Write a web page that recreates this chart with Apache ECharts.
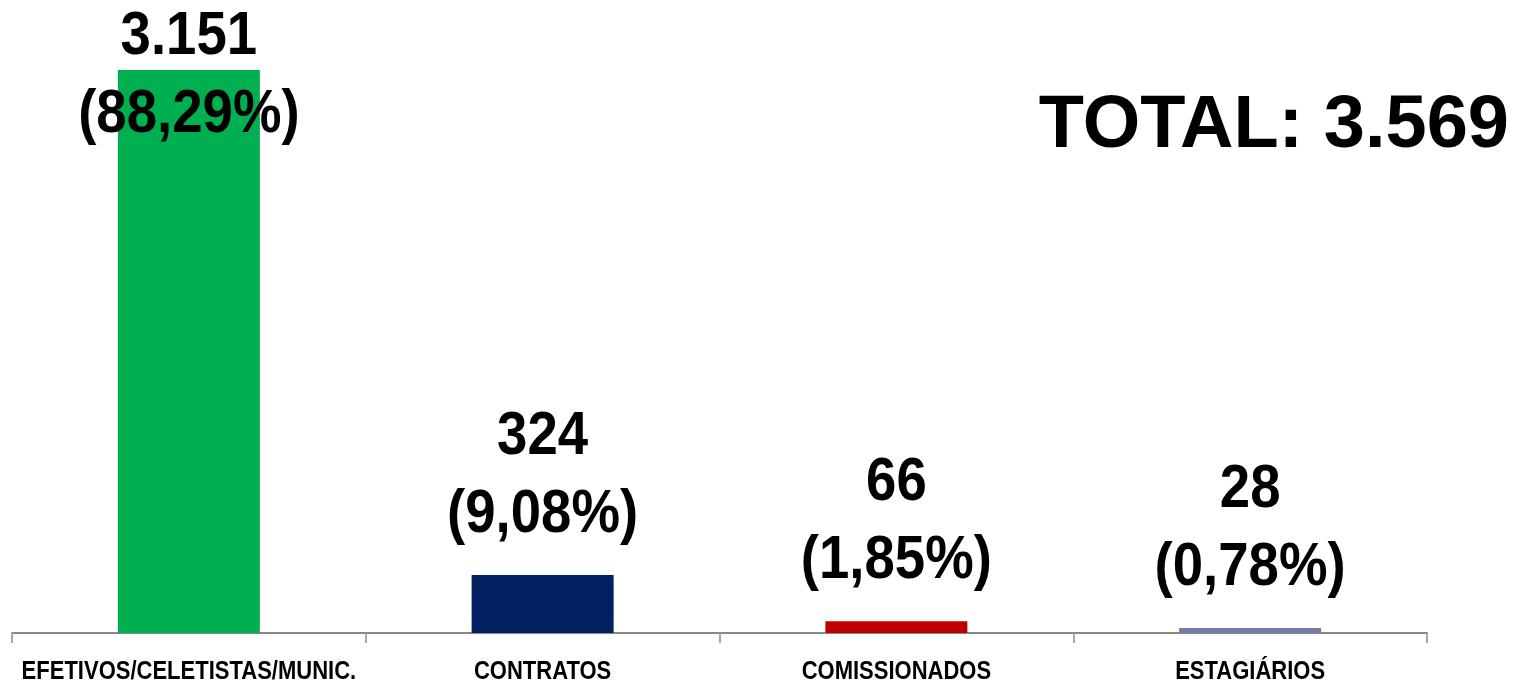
<!DOCTYPE html>
<html>
<head>
<meta charset="utf-8">
<style>
  html, body { margin: 0; padding: 0; background: #fff; }
  #chart { width: 1514px; height: 686px; }
</style>
<script src="https://cdn.jsdelivr.net/npm/echarts@6/dist/echarts.min.js"></script>
</head>
<body>
<div id="chart"></div>
<script>
// dados
const categories = ['EFETIVOS/CELETISTAS/MUNIC.', 'CONTRATOS', 'COMISSIONADOS', 'ESTAGIÁRIOS']
const values = [3151, 324, 66, 28]
const percents = [88.29, 9.08, 1.85, 0.78]
const colors = ['#00B050', '#002060', '#C00000', '#737DA5']
const totalText = 'TOTAL: 3.569'

// sem fonte "narrow" instalada: Liberation Sans bold comprimida na horizontal
const NARROW = 0.88
const labelFont = 'bold 62px "Liberation Sans", Arial, sans-serif'
const catFont = 'bold 25px "Liberation Sans", Arial, sans-serif'

function fmtValue(v) {
  return String(v).replace(/\B(?=(\d{3})+(?!\d))/g, '.')
}

function fmtPct(p) {
  return '(' + p.toFixed(2).replace('.', ',') + '%)'
}

function renderLabels(params, api) {
  const i = api.value(0)
  const top = api.coord([i, api.value(1)])
  const base = api.coord([i, 0])
  // rótulo acima da barra, mas sem sair do topo do gráfico
  const y = Math.max(top[1] - 21, 154)
  return {
    type: 'group',
    children: [
      {
        type: 'text',
        x: top[0],
        y: y,
        scaleX: NARROW,
        style: {
          text: fmtValue(values[i]) + '\n' + fmtPct(percents[i]),
          font: labelFont,
          lineHeight: 78,
          fill: '#000',
          align: 'center',
          verticalAlign: 'bottom'
        }
      },
      {
        type: 'text',
        x: base[0],
        y: base[1] + 39,
        scaleX: NARROW,
        style: {
          text: categories[i],
          font: catFont,
          fill: '#000',
          align: 'center',
          verticalAlign: 'middle'
        }
      }
    ]
  }
}

const chart = echarts.init(document.getElementById('chart'))

chart.setOption({
  animation: false,
  grid: {
    left: 12,
    right: 87,
    top: 70,
    bottom: 53,
    outerBoundsMode: 'none'
  },
  xAxis: {
    type: 'category',
    data: categories,
    axisLine: {
      lineStyle: { color: '#888888', width: 2 }
    },
    axisTick: {
      show: true,
      length: 10,
      lineStyle: { color: '#A6A6A6', width: 2 }
    },
    axisLabel: { show: false }
  },
  yAxis: {
    type: 'value',
    min: 0,
    max: 3151,
    show: false,
    splitLine: { show: false }
  },
  series: [
    {
      type: 'bar',
      barWidth: 142,
      data: values.map((v, i) => ({
        value: v,
        itemStyle: { color: colors[i] }
      }))
    },
    {
      type: 'custom',
      z: 5,
      clip: false,
      silent: true,
      renderItem: renderLabels,
      encode: { x: 0, y: 1 },
      data: values.map((v, i) => [i, v])
    }
  ],
  graphic: [
    {
      type: 'text',
      right: 5,
      top: 90,
      style: {
        text: totalText,
        fill: '#000',
        font: 'bold 74px "Liberation Sans", Arial, sans-serif'
      }
    }
  ]
})
</script>
</body>
</html>
